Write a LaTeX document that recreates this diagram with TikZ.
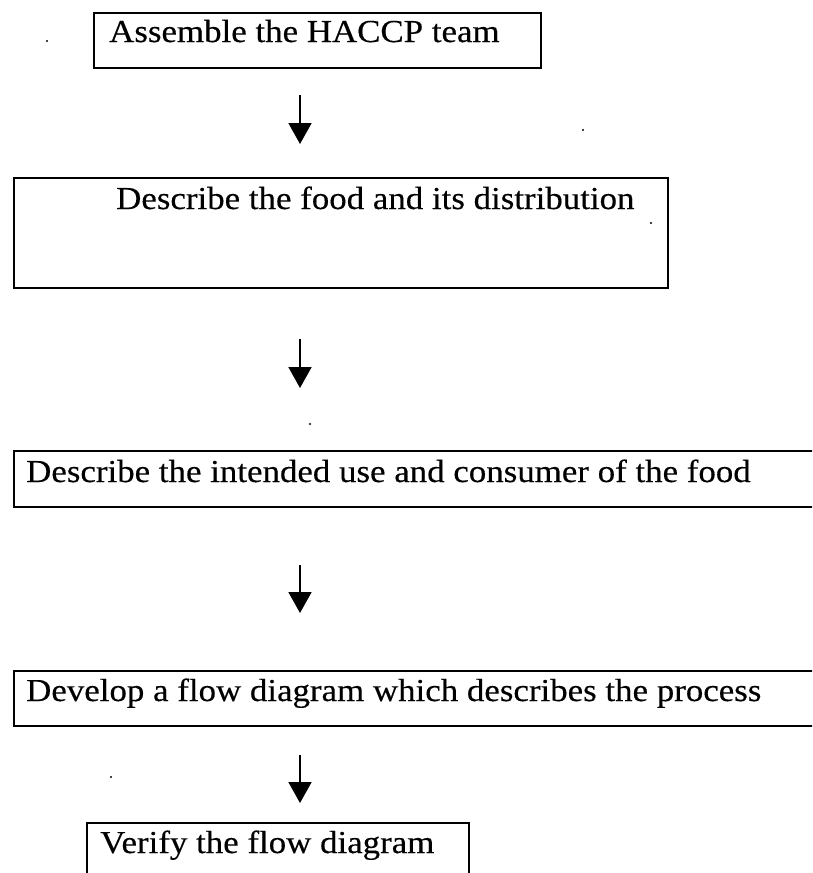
\documentclass[tikz,border=0pt]{standalone}
\usepackage{fontspec}
\setmainfont{Liberation Serif}[FakeStretch=1.09, FakeBold=0.35]
\usetikzlibrary{arrows.meta}
\tikzset{
  stepbox/.style={draw, line width=1.7pt, rectangle, inner sep=0pt, anchor=north west},
  steptext/.style={anchor=base west, inner sep=0pt, font=\fontsize{32}{37}\selectfont},
  flow/.style={line width=1.8pt, -{Triangle[width=23pt, length=21pt]}},
  speck/.style={fill=black, circle, inner sep=0pt, minimum size=2.4pt}
}
\begin{document}
\begin{tikzpicture}[x=1pt, y=-1pt]
  \useasboundingbox (0,0) rectangle (812,873);
  \clip (0,0) rectangle (812,873);

  % boxes
  \node[stepbox, minimum width=447pt, minimum height=55pt] (b1) at (93,12) {};
  \node[stepbox, minimum width=654pt, minimum height=110pt] (b2) at (13,177) {};
  \node[stepbox, minimum width=830pt, minimum height=56pt] (b3) at (13,450) {};
  \node[stepbox, minimum width=830pt, minimum height=55pt] (b4) at (13,670) {};
  \node[stepbox, minimum width=382pt, minimum height=80pt] (b5) at (86,822) {};

  % labels
  \node[steptext] (t1) at (109,42) {Assemble the HACCP team};
  \node[steptext] (t2) at (116,209) {Describe the food and its distribution};
  \node[steptext] (t3) at (26,482) {Describe the intended use and consumer of the food};
  \node[steptext] (t4) at (26,701) {Develop a flow diagram which describes the process};
  \node[steptext] (t5) at (100,853) {Verify the flow diagram};

  % arrows
  \coordinate (a1s) at (300,95);  \coordinate (a1e) at (300,144);
  \coordinate (a2s) at (300,339); \coordinate (a2e) at (300,388);
  \coordinate (a3s) at (300,565); \coordinate (a3e) at (300,613);
  \coordinate (a4s) at (300,755); \coordinate (a4e) at (300,803);
  \draw[flow] (a1s) -- (a1e);
  \draw[flow] (a2s) -- (a2e);
  \draw[flow] (a3s) -- (a3e);
  \draw[flow] (a4s) -- (a4e);

  % specks
  \node[speck] (s1) at (47,41) {};
  \node[speck] (s2) at (583,130) {};
  \node[speck] (s3) at (651,223) {};
  \node[speck] (s4) at (310,424) {};
  \node[speck] (s5) at (111,777) {};
\end{tikzpicture}
\end{document}
